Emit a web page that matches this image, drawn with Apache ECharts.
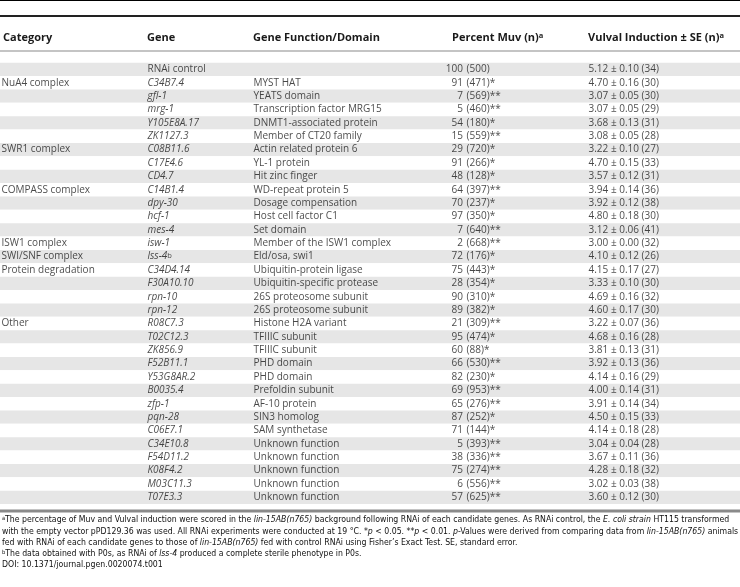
<!DOCTYPE html>
<html><head><meta charset="utf-8">
<script src="https://cdn.jsdelivr.net/npm/echarts@6/dist/echarts.min.js"></script>
<style>html,body{margin:0;padding:0;background:#fff}#c{width:740px;height:587px}</style>
</head><body><div id="c"></div>
<script>
// ---- table data ----
const categoryLabels = ['', 'NuA4 complex', '', '', '', '', 'SWR1 complex', '', '', 'COMPASS complex', '', '', '',
  'ISW1 complex', 'SWI/SNF complex', 'Protein degradation', '', '', '', 'Other', '', '', '', '', '', '', '', '', '', '', '', '', ''];
const genes = ['RNAi control', 'C34B7.4', 'gfl-1', 'mrg-1', 'Y105E8A.17', 'ZK1127.3', 'C08B11.6', 'C17E4.6', 'CD4.7',
  'C14B1.4', 'dpy-30', 'hcf-1', 'mes-4', 'isw-1', 'lss-4', 'C34D4.14', 'F30A10.10', 'rpn-10', 'rpn-12', 'R08C7.3',
  'T02C12.3', 'ZK856.9', 'F52B11.1', 'Y53G8AR.2', 'B0035.4', 'zfp-1', 'pqn-28', 'C06E7.1', 'C34E10.8', 'F54D11.2',
  'K08F4.2', 'M03C11.3', 'T07E3.3'];
const geneMarks = ['', '', '', '', '', '', '', '', '', '', '', '', '', '', 'b', '', '', '', '', '', '', '', '', '', '', '', '', '', '', '', '', '', ''];
const geneFunctions = ['', 'MYST HAT', 'YEATS domain', 'Transcription factor MRG15', 'DNMT1-associated protein',
  'Member of CT20 family', 'Actin related protein 6', 'YL-1 protein', 'Hit zinc finger', 'WD-repeat protein 5',
  'Dosage compensation', 'Host cell factor C1', 'Set domain', 'Member of the ISW1 complex', 'Eld/osa, swi1',
  'Ubiquitin-protein ligase', 'Ubiquitin-specific protease', '26S proteosome subunit', '26S proteosome subunit',
  'Histone H2A variant', 'TFIIIC subunit', 'TFIIIC subunit', 'PHD domain', 'PHD domain', 'Prefoldin subunit',
  'AF-10 protein', 'SIN3 homolog', 'SAM synthetase', 'Unknown function', 'Unknown function', 'Unknown function',
  'Unknown function', 'Unknown function'];
const muvPercent = [100, 91, 7, 5, 54, 15, 29, 91, 48, 64, 70, 97, 7, 2, 72, 75, 28, 90, 89, 21, 95, 60, 66, 82, 69, 65, 87, 71, 5, 38, 75, 6, 57];
const muvN = [500, 471, 569, 460, 180, 559, 720, 266, 128, 397, 237, 350, 640, 668, 176, 443, 354, 310, 382, 309, 474, 88, 530, 230, 953, 276, 252, 144, 393, 336, 274, 556, 625];
const muvSig = ['', '*', '**', '**', '*', '**', '*', '*', '*', '**', '*', '*', '**', '**', '*', '*', '*', '*', '*', '**', '*', '*', '**', '*', '**', '**', '*', '*', '**', '**', '**', '**', '**'];
const vulvalMean = [5.12, 4.70, 3.07, 3.07, 3.68, 3.08, 3.22, 4.70, 3.57, 3.94, 3.92, 4.80, 3.12, 3.00, 4.10, 4.15, 3.33, 4.69, 4.60, 3.22, 4.68, 3.81, 3.92, 4.14, 4.00, 3.91, 4.50, 4.14, 3.04, 3.67, 4.28, 3.02, 3.60];
const vulvalSE = [0.10, 0.16, 0.05, 0.05, 0.13, 0.05, 0.10, 0.15, 0.12, 0.14, 0.12, 0.18, 0.06, 0.00, 0.12, 0.17, 0.10, 0.16, 0.17, 0.07, 0.16, 0.13, 0.13, 0.16, 0.14, 0.14, 0.15, 0.18, 0.04, 0.11, 0.18, 0.03, 0.12];
const vulvalN = [34, 30, 30, 29, 31, 28, 27, 33, 31, 36, 38, 30, 41, 32, 26, 27, 30, 32, 30, 36, 28, 31, 36, 29, 31, 34, 33, 28, 28, 36, 32, 38, 30];
const headers = ['Category', 'Gene', 'Gene Function/Domain', 'Percent Muv (n)', 'Vulval Induction \u00b1 SE (n)'];
const footnoteLines = [
  '{sup|a}The percentage of Muv and Vulval induction were scored in the {i|lin-15AB(n765)} background following RNAi of each candidate genes. As RNAi control, the {i|E. coli strain} HT115 transformed',
  'with the empty vector pPD129.36 was used. All RNAi experiments were conducted at 19 \u00b0C. *{i|p} < 0.05. **{i|p} < 0.01. {i|p}-Values were derived from comparing data from {i|lin-15AB(n765)} animals',
  'fed with RNAi of each candidate genes to those of {i|lin-15AB(n765)} fed with control RNAi using Fisher\u2019s Exact Test. SE, standard error.',
  '{sup|b}The data obtained with P0s, as RNAi of {i|lss-4} produced a complete sterile phenotype in P0s.',
  'DOI: 10.1371/journal.pgen.0020074.t001'
];

// ---- layout ----
const W = 740;
const FONT = '"Open Sans", "DejaVu Sans", sans-serif';
const NARROW = '"Liberation Sans Narrow", "DejaVu Sans Condensed", "Liberation Sans", sans-serif';
const FS = 10;
const HFS = 11;
const TXT = '#1a1a1a';
const colX = { cat: 1, gene: 147, fn: 253, muv: 463.5, vi: 588 };
const rowIds = genes.map((g, i) => String(i));

// fit footnote width
function fitNarrow() {
  const c = document.createElement('canvas').getContext('2d');
  c.font = '10px ' + NARROW;
  let maxW = 0;
  footnoteLines.slice(0, 2).forEach(l => {
    const plain = l.replace(/\{sup\|([^}]*)\}/g, '$1').replace(/\{i\|([^}]*)\}/g, '$1');
    maxW = Math.max(maxW, c.measureText(plain).width);
  });
  return Math.min(11, 10 * 737 / maxW);
}
const footFS = fitNarrow();

function cellSeries(name, data, side, rich, fontStyle) {
  return {
    type: 'scatter', name, silent: true, symbolSize: 1,
    itemStyle: { color: 'rgba(0,0,0,0)' },
    data: data.map(d => ({ value: [d.x, d.row], text: d.text })),
    label: {
      show: true, position: side, distance: 0,
      formatter: p => p.data.text,
      color: TXT, fontFamily: FONT, fontSize: FS, fontStyle: fontStyle || 'normal',
      rich: rich || {}
    }
  };
}

const supRich = {
  sup: { fontSize: 7.5, verticalAlign: 'top', lineHeight: 9, color: TXT, fontFamily: FONT, fontStyle: 'normal' }
};

const catData = categoryLabels.map((t, i) => ({ x: colX.cat, row: String(i), text: t }));
const geneData = genes.map((g, i) => ({
  x: colX.gene, row: String(i),
  text: (i === 0 ? '{n|' + g + '}' : g) + (geneMarks[i] ? '{sup|' + geneMarks[i] + '}' : '')
}));
const fnData = geneFunctions.map((t, i) => ({ x: colX.fn, row: String(i), text: t }));
const muvNumData = muvPercent.map((v, i) => ({ x: colX.muv, row: String(i), text: String(v) }));
const muvRestData = muvN.map((n, i) => ({ x: colX.muv, row: String(i), text: ' (' + n + ')' + muvSig[i] }));
const viData = vulvalMean.map((m, i) => ({
  x: colX.vi, row: String(i),
  text: m.toFixed(2) + ' \u00b1 ' + vulvalSE[i].toFixed(2) + ' (' + vulvalN[i] + ')'
}));

const headerY = 37.5;
function headerText(x, text, sup) {
  return {
    type: 'text', x, y: headerY, silent: true,
    style: {
      text: sup ? text + '{s|a}' : text, fill: TXT, fontFamily: FONT, fontSize: HFS, fontWeight: 'bold',
      verticalAlign: 'middle', align: 'left',
      rich: { s: { fontSize: 7.5, fontWeight: 'bold', verticalAlign: 'top', lineHeight: 9, fill: TXT, fontFamily: FONT } }
    }
  };
}
const footRich = {
  i: { fontStyle: 'italic', fontFamily: NARROW, fontSize: footFS, fill: '#111' },
  sup: { fontSize: footFS * 0.65, verticalAlign: 'top', lineHeight: 7, fontFamily: NARROW, fill: '#111' }
};
const footY = [520, 531.5, 542.8, 554, 565.2];

const chart = echarts.init(document.getElementById('c'), null, { renderer: 'canvas' });
chart.setOption({
  animation: false,
  backgroundColor: '#fff',
  grid: { left: 0, right: 0, top: 62.7, height: 441.3 },
  xAxis: { type: 'value', min: 0, max: W, show: false },
  yAxis: {
    type: 'category', data: rowIds, inverse: true,
    axisLine: { show: false }, axisTick: { show: false, interval: 0 }, axisLabel: { show: false, interval: 0 },
    splitLine: { show: false, interval: 0 },
    splitArea: { show: true, interval: 0, areaStyle: { color: ['#e6e6e6', '#ffffff'] } }
  },
  series: [
    cellSeries('category', catData, 'right'),
    cellSeries('gene', geneData, 'right', Object.assign({
      n: { fontStyle: 'normal', fontFamily: FONT, fontSize: FS, color: TXT }
    }, supRich), 'italic'),
    cellSeries('function', fnData, 'right'),
    cellSeries('muvPct', muvNumData, 'left'),
    cellSeries('muvN', muvRestData, 'right'),
    cellSeries('vulval', viData, 'right')
  ],
  graphic: [
    { type: 'rect', silent: true, shape: { x: 0, y: 0, width: W, height: 1 }, style: { fill: '#000' } },
    { type: 'rect', silent: true, shape: { x: 0, y: 15, width: W, height: 2 }, style: { fill: '#222' } },
    { type: 'rect', silent: true, shape: { x: 0, y: 50.5, width: W, height: 1 }, style: { fill: '#8a8a8a' } },
    { type: 'rect', silent: true, shape: { x: 0, y: 509.5, width: W, height: 3 }, style: { fill: '#8a8a8a' } },
    headerText(3, headers[0]),
    headerText(colX.gene, headers[1]),
    headerText(colX.fn, headers[2]),
    headerText(452, headers[3], true),
    headerText(colX.vi, headers[4], true)
  ].concat(footnoteLines.map((l, k) => ({
    type: 'text', x: 2, y: footY[k], silent: true,
    style: { text: l, fontFamily: NARROW, fontSize: footFS, fill: '#111', verticalAlign: 'middle', align: 'left', rich: footRich }
  })))
});
</script></body></html>
